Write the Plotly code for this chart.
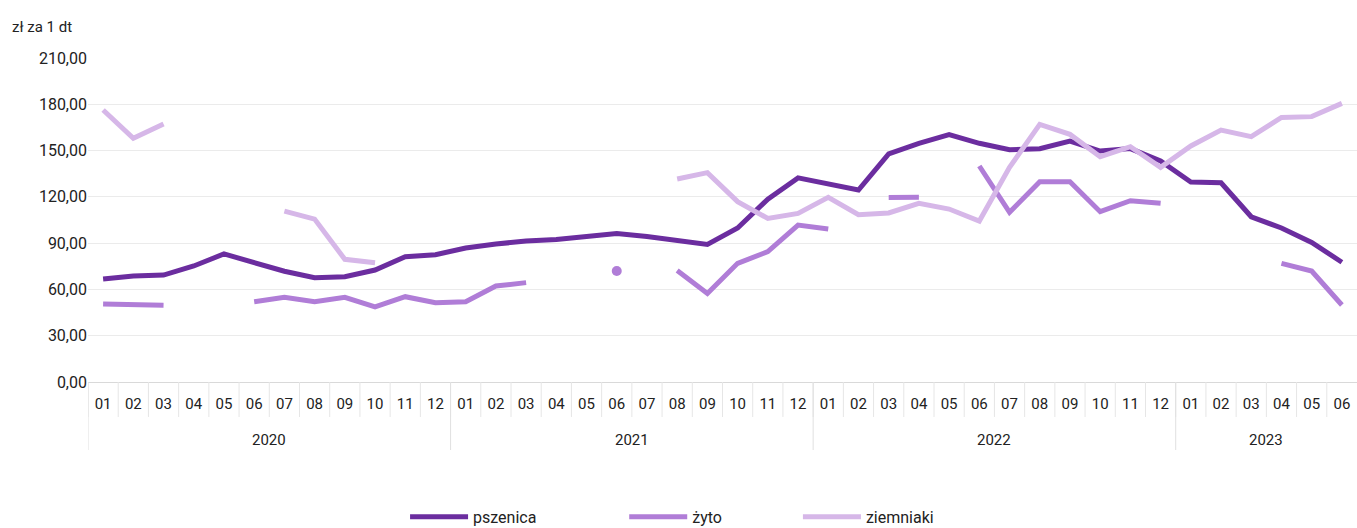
import plotly.graph_objects as go

years = ["2020", "2021", "2022", "2023"]
months_per_year = [12, 12, 12, 6]
categories = [f"{y}-{m:02d}" for y, n in zip(years, months_per_year) for m in range(1, n + 1)]
month_labels = [c.split("-")[1] for c in categories]

pszenica = [66.8, 68.7, 69.3, 75.2, 83.0, 77.5, 71.8, 67.6, 68.2, 72.6, 81.2, 82.5,
            86.8, 89.4, 91.4, 92.3, 94.6, 96.2, 94.3, 91.4, 89.2, 99.8, 118.5, 132.3,
            128.7, 124.4, 147.8, 154.7, 160.3, 154.7, 150.6, 151.2, 156.2, 149.7, 151.3, 143.2,
            129.6, 129.1, 107.1, 99.8, 90.5, 77.6]
zyto = [50.5, 49.9, 49.7, None, None, 52.0, 54.9, 52.0, 54.9, 48.7, 55.3, 51.4,
        52.0, 62.2, 64.4, None, None, 71.9, None, 72.2, 57.4, 76.9, 84.5, 101.7,
        99.1, None, 119.6, 119.7, None, 140.0, 110.0, 129.8, 129.8, 110.4, 117.5, 115.8,
        None, None, None, 76.9, 71.9, 49.9]
ziemniaki = [176.3, 158.0, 167.2, None, None, None, 110.8, 105.6, 79.5, 77.3, None, None,
             None, None, None, None, None, None, None, 131.6, 135.7, 116.9, 106.0, 109.3,
             119.7, 108.4, 109.6, 115.8, 112.1, 104.3, 139.1, 167.0, 160.5, 146.0, 152.5, 139.1,
             153.0, 163.3, 159.0, 171.5, 172.0, 180.6]

series = [("pszenica", pszenica, "#6b2d9f", "legend"),
          ("żyto", zyto, "#b07dd7", "legend2"),
          ("ziemniaki", ziemniaki, "#d6b7e8", "legend3")]
legend_x = [0.2985, 0.46, 0.588]


def isolated_only(vals):
    out = []
    for i, v in enumerate(vals):
        prev_ok = i > 0 and vals[i - 1] is not None
        next_ok = i < len(vals) - 1 and vals[i + 1] is not None
        out.append(v if (v is not None and not prev_ok and not next_ok) else None)
    return out


fig = go.Figure()
for name, vals, color, leg in series:
    fig.add_trace(go.Scatter(
        x=categories, y=vals, name=name, mode="lines", legend=leg,
        line=dict(color=color, width=5),
        connectgaps=False, hoverinfo="skip"))
    iso = isolated_only(vals)
    if any(v is not None for v in iso):
        fig.add_trace(go.Scatter(
            x=categories, y=iso, mode="markers", showlegend=False,
            marker=dict(color=color, size=10), hoverinfo="skip"))

n = len(categories)
shapes = []
for i in range(n):
    shapes.append(dict(type="line", xref="x", yref="paper", x0=i - 0.5, x1=i - 0.5,
                       y0=0, y1=-0.108, line=dict(color="#e6e6e6", width=1)))
start = 0
annotations = []
for y, cnt in zip(years, months_per_year):
    shapes.append(dict(type="line", xref="x", yref="paper", x0=start - 0.5, x1=start - 0.5,
                       y0=0, y1=-0.21, line=dict(color="#e0e0e0", width=1)))
    annotations.append(dict(text=y, xref="x", yref="paper", x=start + (cnt - 1) / 2,
                            y=-0.179, xanchor="center", yanchor="middle",
                            showarrow=False, font=dict(size=15)))
    start += cnt

annotations.append(dict(text="zł za 1 dt", xref="paper", yref="paper", x=-0.0616, y=1.096,
                        xanchor="left", yanchor="middle", showarrow=False,
                        font=dict(size=15)))

legend_common = dict(orientation="h", xanchor="left", xref="container",
                     y=0.021, yanchor="middle", yref="container",
                     font=dict(size=16), itemwidth=58, bgcolor="rgba(0,0,0,0)")

fig.update_layout(
    width=1357, height=528,
    paper_bgcolor="white", plot_bgcolor="white",
    margin=dict(l=88, r=0, t=58, b=146, autoexpand=False),
    font=dict(family="Roboto, Open Sans, sans-serif", size=15, color="#222222"),
    separators=", ",
    showlegend=True,
    legend=dict(x=legend_x[0], **legend_common),
    legend2=dict(x=legend_x[1], **legend_common),
    legend3=dict(x=legend_x[2], **legend_common),
    shapes=shapes,
    annotations=annotations,
)
fig.update_yaxes(range=[0, 210], tickvals=[0, 30, 60, 90, 120, 150, 180, 210],
                 tickformat=".2f", showgrid=True, gridcolor="#ebebeb", gridwidth=1,
                 zeroline=False, showline=False, ticks="", tickfont=dict(size=16),
                 automargin=False)
fig.update_xaxes(type="category", range=[-0.5, n - 0.5], tickvals=categories,
                 ticktext=month_labels, showline=True, linecolor="#d9d9d9",
                 showgrid=False, ticks="", ticklabelstandoff=8, tickangle=0,
                 tickfont=dict(size=15), automargin=False)

fig.write_html("out.html", config={"displayModeBar": False},
               post_script="document.body.style.margin='0';")
